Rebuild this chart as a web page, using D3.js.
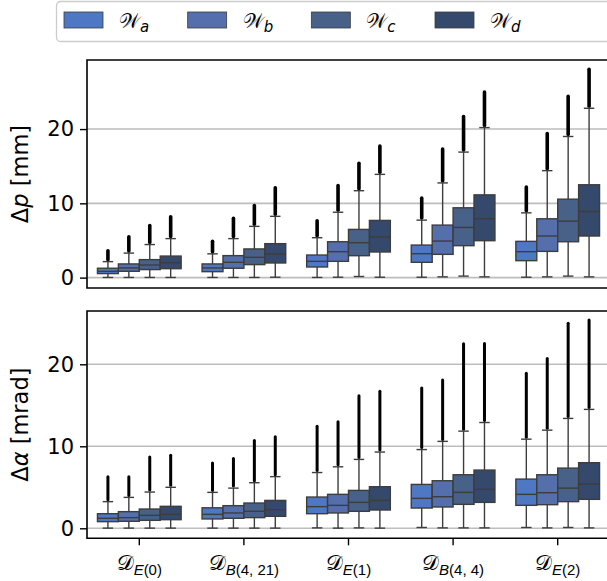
<!DOCTYPE html>
<html><head><meta charset="utf-8">
<script src="https://cdn.jsdelivr.net/npm/d3@7"></script>
<style>
body{margin:0;background:#fff;}
svg{display:block;font-family:"DejaVu Sans",sans-serif;}
</style></head>
<body><svg id="c" width="607" height="581"></svg>
<script>
// ---------- data ----------
const categories = ["E(0)", "B(4, 21)", "E(1)", "B(4, 4)", "E(2)"];
const series = ["a", "b", "c", "d"];
const colors = ["#4e78c4", "#546fab", "#476189", "#34496b"];
const yTicks = [0, 10, 20];

// Δp [mm] : rows = categories, columns = series
const dpQ1  = [[0.54,0.85,1.08,1.2],[0.8,1.26,1.75,1.97],[1.43,2.19,2.95,3.45],[2.06,3.13,4.3,4.97],[2.28,3.53,4.83,5.6]];
const dpMed = [[0.85,1.3,1.7,2.0],[1.3,2.06,2.73,3.18],[2.19,3.49,4.7,5.46],[3.22,4.92,6.76,7.92],[3.49,5.6,7.6,8.9]];
const dpQ3  = [[1.26,1.84,2.42,2.9],[1.84,2.96,3.86,4.57],[3.04,4.83,6.49,7.7],[4.38,7.07,9.4,11.14],[4.88,7.92,10.56,12.5]];
const dpLo  = [[0.02,0.02,0.02,0.02],[0.02,0.02,0.02,0.05],[0.02,0.05,0.15,0.05],[0.05,0.1,0.2,0.1],[0.05,0.1,0.2,0.1]];
const dpHi  = [[2.15,3.3,4.45,5.25],[3.2,5.25,6.9,8.25],[5.37,8.8,11.7,13.9],[7.74,12.75,16.9,20.2],[8.72,14.4,19.0,22.8]];
const dpMax = [[3.6,5.5,7.0,8.2],[4.9,8.0,9.7,12.1],[7.65,12.4,15.4,17.7],[10.7,17.3,21.7,25.0],[12.2,19.4,24.4,28.05]];

// Δα [mrad]
const daQ1  = [[0.81,0.85,0.97,1.05],[1.14,1.22,1.3,1.46],[1.78,1.87,2.07,2.23],[2.47,2.6,2.92,3.16],[2.8,2.88,3.25,3.53]];
const daMed = [[1.22,1.3,1.58,1.7],[1.7,1.87,2.07,2.27],[2.64,2.8,3.16,3.4],[3.65,3.85,4.38,4.75],[4.14,4.34,4.9,5.4]];
const daQ3  = [[1.78,2.03,2.35,2.68],[2.5,2.76,3.08,3.4],[3.81,4.14,4.62,5.07],[5.35,5.8,6.53,7.1],[6.0,6.53,7.34,8.0]];
const daLo  = [[0.02,0.02,0.02,0.02],[0.02,0.02,0.02,0.02],[0.05,0.02,0.05,0.02],[0.1,0.05,0.05,0.05],[0.1,0.05,0.1,0.05]];
const daHi  = [[3.25,3.77,4.42,5.0],[4.38,4.9,5.56,6.3],[6.8,7.5,8.4,9.3],[9.6,10.6,11.85,12.9],[10.87,11.97,13.4,14.5]];
const daMax = [[6.3,6.3,8.7,8.9],[7.95,8.5,10.7,11.15],[12.45,13.0,16.15,16.7],[17.1,18.1,22.5,22.55],[18.9,20.7,25.0,25.4]];

// ---------- layout ----------
const svg = d3.select("#c");
const left = 87, right = 610;
const x = d3.scaleBand().domain(categories).range([left, right]).padding(0);
const hue = d3.scaleBand().domain(series).range([0.1 * x.bandwidth(), 0.9 * x.bandwidth()]).padding(0);
const lineCol = "#3d3d3d";

const panels = [
  {top: 60, bottom: 288, domain: [-1.4, 29.3], label: ["Δ", "p", " [mm]"],
   q1: dpQ1, med: dpMed, q3: dpQ3, lo: dpLo, hi: dpHi, mx: dpMax, flierW: 3.6, xLabels: false},
  {top: 311, bottom: 538.3, domain: [-1.22, 26.5], label: ["Δ", "α", " [mrad]"],
   q1: daQ1, med: daMed, q3: daQ3, lo: daLo, hi: daHi, mx: daMax, flierW: 3.0, xLabels: true}
];

panels.forEach(p => {
  const y = d3.scaleLinear().domain(p.domain).range([p.bottom, p.top]);
  const g = svg.append("g");

  // grid
  g.selectAll("line.grid").data(yTicks).join("line")
    .attr("x1", left).attr("x2", right)
    .attr("y1", d => y(d)).attr("y2", d => y(d))
    .attr("stroke", "#bdbdbd").attr("stroke-width", 1.6);

  // boxes
  categories.forEach((cat, ci) => {
    series.forEach((s, si) => {
      const x0 = x(cat) + hue(s), w = hue.bandwidth(), xc = x0 + w / 2, capW = w / 2;
      const bg = g.append("g");
      // fliers (dense outlier column)
      bg.append("line").attr("x1", xc).attr("x2", xc)
        .attr("y1", y(p.hi[ci][si]) - 2).attr("y2", y(p.mx[ci][si]))
        .attr("stroke", "#000").attr("stroke-width", p.flierW).attr("stroke-linecap", "round");
      // whiskers
      bg.append("line").attr("x1", xc).attr("x2", xc)
        .attr("y1", y(p.q3[ci][si])).attr("y2", y(p.hi[ci][si]))
        .attr("stroke", lineCol).attr("stroke-width", 1.4);
      bg.append("line").attr("x1", xc).attr("x2", xc)
        .attr("y1", y(p.q1[ci][si])).attr("y2", y(p.lo[ci][si]))
        .attr("stroke", lineCol).attr("stroke-width", 1.4);
      [p.hi[ci][si], p.lo[ci][si]].forEach(v => {
        bg.append("line").attr("x1", xc - capW / 2).attr("x2", xc + capW / 2)
          .attr("y1", y(v)).attr("y2", y(v))
          .attr("stroke", lineCol).attr("stroke-width", 1.4);
      });
      // box
      bg.append("rect").attr("x", x0).attr("width", w)
        .attr("y", y(p.q3[ci][si])).attr("height", y(p.q1[ci][si]) - y(p.q3[ci][si]))
        .attr("fill", colors[si]).attr("stroke", lineCol).attr("stroke-width", 1.4);
      bg.append("line").attr("x1", x0).attr("x2", x0 + w)
        .attr("y1", y(p.med[ci][si])).attr("y2", y(p.med[ci][si]))
        .attr("stroke", lineCol).attr("stroke-width", 1.4);
    });
  });

  // spines
  g.append("path")
    .attr("d", `M${right},${p.top}H${left}V${p.bottom}H${right}`)
    .attr("fill", "none").attr("stroke", "#000").attr("stroke-width", 1.6);

  // y axis
  const ya = g.append("g").attr("transform", `translate(${left},0)`)
    .call(d3.axisLeft(y).tickValues(yTicks).tickSize(7).tickPadding(6));
  ya.select(".domain").remove();
  ya.selectAll(".tick line").attr("stroke", "#000").attr("stroke-width", 1.4);
  ya.selectAll(".tick text").attr("font-size", 21).attr("fill", "#000")
    .attr("font-family", "DejaVu Sans");

  // y label
  const yl = svg.append("text")
    .attr("transform", `translate(28,${(p.top + p.bottom) / 2}) rotate(-90)`)
    .attr("text-anchor", "middle").attr("font-size", 22.5).attr("fill", "#000");
  yl.append("tspan").text(p.label[0]);
  yl.append("tspan").attr("font-style", "italic").text(p.label[1]);
  yl.append("tspan").text(p.label[2]);

  if (p.xLabels) {
    const xa = g.append("g").attr("transform", `translate(0,${p.bottom})`)
      .call(d3.axisBottom(x).tickSize(7).tickPadding(5));
    xa.select(".domain").remove();
    xa.selectAll(".tick line").attr("stroke", "#000").attr("stroke-width", 1.4);
    xa.selectAll(".tick text").each(function(d) {
      const t = d3.select(this).text("").attr("font-size", 21).attr("fill", "#000")
        .attr("dy", "0.95em");
      t.append("tspan").text("𝒟");
      const sub = t.append("tspan").attr("font-size", 15).attr("dy", 5);
      sub.append("tspan").attr("font-style", "italic").text(d[0]);
      sub.append("tspan").text(d.slice(1));
    });
  }
});

// legend
const lg = svg.append("g");
lg.append("rect").attr("x", 56.5).attr("y", 1.5).attr("width", 570).attr("height", 40)
  .attr("rx", 4).attr("fill", "#fff").attr("stroke", "#cccccc").attr("stroke-width", 1.3);
const legX = d3.scalePoint().domain(series).range([64, 435]);
series.forEach((s, i) => {
  lg.append("rect").attr("x", legX(s)).attr("y", 12).attr("width", 39).attr("height", 16)
    .attr("fill", colors[i]).attr("stroke", lineCol).attr("stroke-width", 0.8);
  const t = lg.append("text").attr("x", legX(s) + 55).attr("y", 28).attr("font-size", 20).attr("fill", "#000");
  t.append("tspan").text("𝒲");
  t.append("tspan").attr("font-style", "italic").attr("font-size", 15).attr("dy", 4).text(s);
});
</script></body></html>
